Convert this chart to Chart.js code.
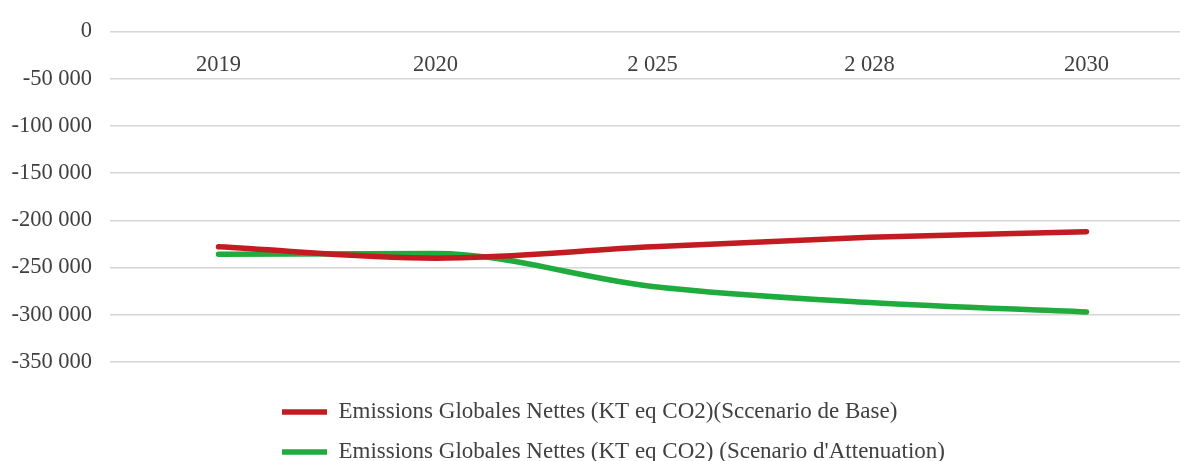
<!DOCTYPE html>
<html>
<head>
<meta charset="utf-8">
<style>
html,body{margin:0;padding:0;background:#ffffff;overflow:hidden;width:1180px;height:461px}
canvas{display:block}
</style>
<script src="https://cdn.jsdelivr.net/npm/chart.js@4/dist/chart.umd.min.js"></script>
</head>
<body>
<canvas id="c" width="1195" height="461"></canvas>
<script>
const categories = ['2019', '2020', '2 025', '2 028', '2030'];
const baseScenario = [-228000, -240000, -228000, -218000, -212000];
const mitigationScenario = [-236000, -235000, -270000, -287000, -297000];
const yTicks = [0, -50000, -100000, -150000, -200000, -250000, -300000, -350000];
const seriesNames = [
  'Emissions Globales Nettes (KT eq CO2)(Sccenario de Base)',
  "Emissions Globales Nettes (KT eq CO2) (Scenario d'Attenuation)"
];

function fmt(v) {
  const s = String(Math.abs(v)).replace(/\B(?=(\d{3})+(?!\d))/g, ' ');
  return (v < 0 ? '-' : '') + s;
}

const FS = 22.5;
const LFS = 23;
const LEG_PAD = 17;
Chart.defaults.font.family = "'Liberation Serif', 'Times New Roman', serif";
Chart.defaults.font.size = FS;
Chart.defaults.color = '#404040';

const legendPlacement = {
  id: 'legendPlacement',
  afterLayout(chart) {
    const lg = chart.legend;
    if (!lg) return;
    lg.left = 265;
    lg.top = 383.5;
    lg.bottom = 470;
  }
};

new Chart(document.getElementById('c'), {
  type: 'line',
  data: {
    labels: categories,
    datasets: [
      {
        label: seriesNames[0],
        data: baseScenario,
        borderColor: '#c21b21',
        backgroundColor: '#c21b21',
        borderWidth: 5.5,
        borderCapStyle: 'round',
        pointRadius: 0,
        cubicInterpolationMode: 'monotone',
        fill: false
      },
      {
        label: seriesNames[1],
        data: mitigationScenario,
        borderColor: '#1fab3d',
        backgroundColor: '#1fab3d',
        borderWidth: 5.5,
        borderCapStyle: 'round',
        pointRadius: 0,
        cubicInterpolationMode: 'monotone',
        fill: false
      }
    ]
  },
  options: {
    responsive: false,
    animation: false,
    layout: { padding: { top: 28, bottom: 9, left: 0, right: 0 } },
    scales: {
      x: {
        type: 'category',
        offset: true,
        position: { y: 0 },
        grid: { display: false },
        border: { display: false },
        ticks: { padding: 12.5, maxRotation: 0, autoSkip: false, font: { size: FS } }
      },
      y: {
        min: -350000,
        max: 0,
        afterBuildTicks(scale) { scale.ticks = yTicks.map(v => ({ value: v })); },
        afterFit(scale) { scale.width = 110; },
        grid: { color: '#d6d6d6', lineWidth: 1.5, drawTicks: false },
        border: { display: false },
        ticks: { padding: 18, callback: (v) => fmt(v), font: { size: FS } }
      }
    },
    plugins: {
      tooltip: { enabled: false },
      legend: {
        display: true,
        position: 'bottom',
        align: 'start',
        labels: {
          usePointStyle: true,
          pointStyle: 'line',
          pointStyleWidth: 45,
          padding: LEG_PAD,
          font: { size: LFS },
          color: '#404040'
        }
      }
    }
  },
  plugins: [legendPlacement]
});
</script>
</body>
</html>
